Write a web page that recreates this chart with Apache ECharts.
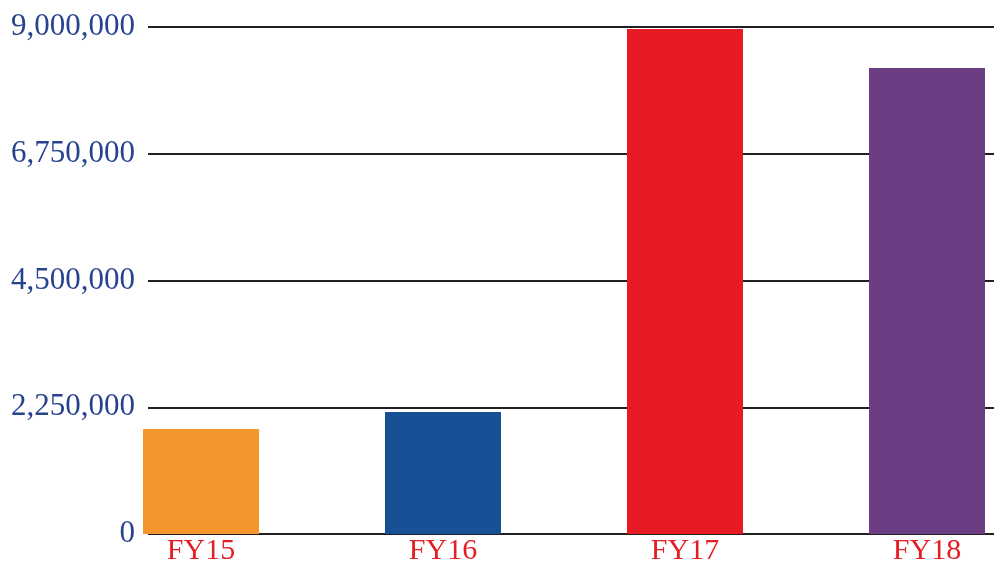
<!DOCTYPE html>
<html>
<head>
<meta charset="utf-8">
<script src="https://cdn.jsdelivr.net/npm/echarts@6/dist/echarts.min.js"></script>
<style>
  html, body { margin: 0; padding: 0; background: #fff; }
  #chart { width: 1000px; height: 561px; }
</style>
</head>
<body>
<div id="chart"></div>
<script>
var years = ['FY15', 'FY16', 'FY17', 'FY18']
var amounts = [1864000, 2166000, 8964000, 8272000]
var barColors = ['#f4962c', '#175095', '#e61b23', '#6c3d82']
var yTicks = [0, 2250000, 4500000, 6750000, 9000000]

var chart = echarts.init(document.getElementById('chart'))

chart.setOption({
  animation: false,
  grid: [
    // grid lines + value labels
    { left: 148, right: 6, top: 27, bottom: 27, outerBoundsMode: 'none' },
    // bars, wider so the bands sit where the picture has them
    { left: 80, width: 968, top: 27, bottom: 27, outerBoundsMode: 'none' }
  ],
  xAxis: [
    { gridIndex: 0, type: 'value', show: false },
    {
      gridIndex: 1,
      type: 'category',
      data: years,
      axisLine: { show: false },
      axisTick: { show: false },
      axisLabel: {
        color: '#e31e24',
        fontFamily: 'Liberation Serif',
        fontSize: 30,
        margin: 2
      }
    }
  ],
  yAxis: [
    {
      gridIndex: 0,
      type: 'value',
      min: yTicks[0],
      max: yTicks[yTicks.length - 1],
      interval: yTicks[1] - yTicks[0],
      axisLine: { show: false },
      axisTick: { show: false },
      splitLine: { lineStyle: { color: '#231f20', width: 2 } },
      axisLabel: {
        color: '#27438f',
        fontFamily: 'Liberation Serif',
        fontSize: 31,
        margin: 13,
        formatter: function (v) { return v.toLocaleString('en-US') }
      }
    },
    {
      gridIndex: 1,
      type: 'value',
      min: yTicks[0],
      max: yTicks[yTicks.length - 1],
      interval: yTicks[1] - yTicks[0],
      show: false
    }
  ],
  series: [
    {
      type: 'bar',
      xAxisIndex: 1,
      yAxisIndex: 1,
      barWidth: 116,
      data: amounts.map(function (v, i) {
        return { value: v, itemStyle: { color: barColors[i] } }
      })
    }
  ]
})
</script>
</body>
</html>
